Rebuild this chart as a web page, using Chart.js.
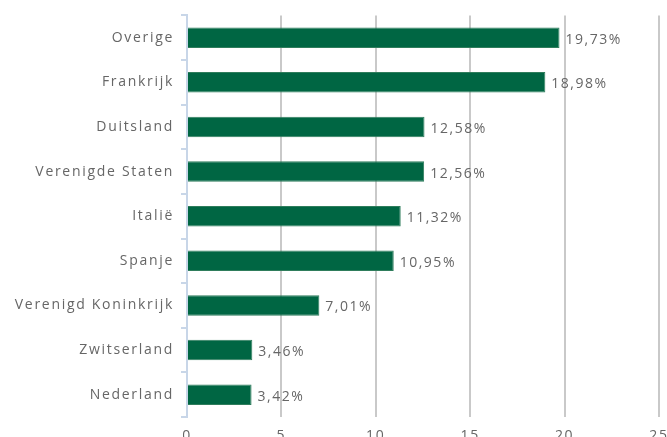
<!DOCTYPE html>
<html>
<head>
<meta charset="utf-8">
<script src="https://cdn.jsdelivr.net/npm/chart.js@4/dist/chart.umd.min.js"></script>
<style>
  html, body { margin: 0; padding: 0; background: #fff; }
  #wrap { width: 667px; height: 437px; }
</style>
</head>
<body>
<div id="wrap"><canvas id="graphique"></canvas></div>
<script>
const landen = ["Overige", "Frankrijk", "Duitsland", "Verenigde Staten", "Italië", "Spanje", "Verenigd Koninkrijk", "Zwitserland", "Nederland"];
const percentages = [19.73, 18.98, 12.58, 12.56, 11.32, 10.95, 7.01, 3.46, 3.42];
const xTicks = [0, 5, 10, 15, 20, 25];

const tekstKleur = "#666666";
const lettertype = { family: "'Open Sans', 'DejaVu Sans', sans-serif", size: 14 };
const spatiering = "1.7px";

// letter spacing op de canvas zetten (state blijft na save/restore)
const spacingPlugin = {
    id: "spacing",
    beforeLayout(chart) { chart.ctx.letterSpacing = spatiering; },
    beforeDraw(chart) { chart.ctx.letterSpacing = spatiering; }
};

// labels rechts van de balken
const labelPlugin = {
    id: "barLabels",
    afterDatasetsDraw(chart) {
        const ctx = chart.ctx;
        const meta = chart.getDatasetMeta(0);
        ctx.save();
        ctx.letterSpacing = "1.5px";
        ctx.font = lettertype.size + "px " + lettertype.family;
        ctx.fillStyle = tekstKleur;
        ctx.textAlign = "left";
        ctx.textBaseline = "middle";
        meta.data.forEach((bar, i) => {
            const txt = percentages[i].toFixed(2).replace(".", ",") + "%";
            ctx.fillText(txt, bar.x + 6, bar.y + 2);
        });
        ctx.restore();
    }
};

const ctx = document.getElementById("graphique").getContext("2d");
new Chart(ctx, {
    type: "bar",
    data: {
        labels: landen,
        datasets: [{
            data: percentages,
            backgroundColor: "#006643",
            borderColor: "#2f7d5c",
            borderWidth: 1,
            borderSkipped: "left",
            categoryPercentage: 1,
            barPercentage: 0.46
        }]
    },
    options: {
        indexAxis: "y",
        responsive: true,
        maintainAspectRatio: false,
        animation: false,
        layout: { padding: { top: 15, right: 8, left: 0, bottom: 0 } },
        plugins: {
            legend: { display: false },
            tooltip: { enabled: false }
        },
        scales: {
            x: {
                min: 0,
                max: 25,
                afterBuildTicks(scale) { scale.ticks = xTicks.map(v => ({ value: v })); },
                afterFit(scale) {
                    scale.height = 20;
                    scale.paddingRight = 0;
                    scale.paddingLeft = 0;
                },
                border: { display: false },
                grid: {
                    color: ctx => ctx.tick && ctx.tick.value === 0 ? "rgba(0,0,0,0)" : "#c9c9c9",
                    lineWidth: 2,
                    drawTicks: false
                },
                ticks: {
                    color: tekstKleur,
                    font: lettertype,
                    padding: 11
                }
            },
            y: {
                afterFit(scale) { scale.width = 187; },
                border: { display: true, color: "#c8d6e8", width: 2 },
                grid: {
                    offset: true,
                    drawOnChartArea: false,
                    drawTicks: true,
                    tickLength: 6,
                    color: "#c8d6e8",
                    lineWidth: 2
                },
                ticks: {
                    color: tekstKleur,
                    font: lettertype,
                    padding: 7
                }
            }
        }
    },
    plugins: [spacingPlugin, labelPlugin]
});
</script>
</body>
</html>
